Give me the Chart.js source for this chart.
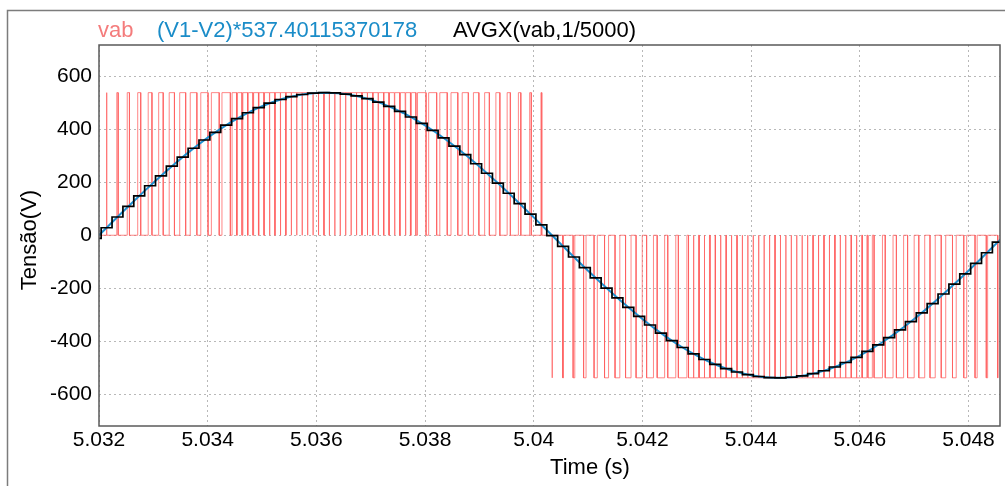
<!DOCTYPE html>
<html><head><meta charset="utf-8">
<script src="https://cdn.jsdelivr.net/npm/chart.js@4/dist/chart.umd.min.js"></script>
<style>html,body{margin:0;padding:0;background:#fff;overflow:hidden}</style>
</head><body>
<div style="width:1005px;height:486px;position:relative"><canvas id="c" width="1005" height="486"></canvas></div>
<script>
// ---- data ----
const seriesNames = ['vab', '(V1-V2)*537.40115370178', 'AVGX(vab,1/5000)'];
const xTicks = [5.032, 5.034, 5.036, 5.038, 5.040, 5.042, 5.044, 5.046, 5.048];
const xTickLabels = ['5.032', '5.034', '5.036', '5.038', '5.04', '5.042', '5.044', '5.046', '5.048'];
const yTicks = [-600, -400, -200, 0, 200, 400, 600];
const yTickLabels = ['-600', '-400', '-200', '0', '200', '400', '600'];
const xTitle = 'Time (s)';
const yTitle = 'Tensão(V)';

// (V1-V2)*537.4 sampled every 0.2 ms from 5.032 s
const sineStart = 5.032;
const sineStep = 0.0002;
const sineValues = [
  0, 40.5, 80.7, 120.5, 159.6, 197.8, 234.9, 270.6, 304.8, 337.3,
  367.9, 396.3, 422.6, 446.4, 467.6, 486.3, 502.1, 515.1, 525.2, 532.3,
  536.3, 537.4, 535.3, 530.2, 522.2, 511.1, 497.1, 480.3, 460.8, 438.7,
  414.1, 387.1, 357.9, 326.8, 293.7, 258.9, 222.6, 185.2, 146.7, 107.3,
  67.4, 27.0, -13.5, -53.9, -94.1, -133.6, -172.5, -210.3, -247.0, -282.2,
  -315.9, -347.7, -377.6, -405.3, -430.7, -453.7, -474.2, -491.9, -506.8, -518.8,
  -527.9, -534.0, -537.0, -537.0, -534.0, -527.9, -518.8, -506.8, -491.9, -474.2,
  -453.7, -430.7, -405.3, -377.6, -347.7, -315.9, -282.2, -247.0, -210.3, -172.5,
  -133.6, -94.1, -53.9, -13.5
];

// AVGX(vab,1/5000): one level per 0.2 ms window, first window starts at 5.03184 s
const avgStart = 5.03184;
const avgStep = 0.0002;
const avgValues = [
  -12.2, 28.3, 68.7, 108.6, 148.0, 186.5, 223.9, 260.1, 294.7, 327.8,
  358.9, 388.0, 414.9, 439.5, 461.6, 481.0, 497.6, 511.5, 522.5, 530.5,
  535.4, 537.4, 536.3, 532.1, 524.9, 514.7, 501.6, 485.7, 466.9, 445.6,
  421.7, 395.4, 366.8, 336.2, 303.7, 269.5, 233.7, 196.6, 158.3, 119.2,
  79.4, 39.1, -1.3, -41.8, -82.1, -121.8, -160.9, -199.1, -236.1, -271.8,
  -306.0, -338.3, -368.8, -397.1, -423.1, -447.1, -468.3, -486.8, -502.6, -515.5,
  -525.5, -532.5, -536.4, -537.3, -535.2, -530.0, -521.8, -510.7, -496.6, -479.7,
  -460.1, -438.0, -413.3, -386.2, -357.0, -325.7, -292.5, -257.7, -221.5, -184.0,
  -145.4, -106.0, -66.0, -25.6
];
// vab switches between 0 and the DC level
const vabLevel = 537.4;

// ---- build library tables ----
const sinePts = sineValues.map((v, i) => ({x: sineStart + i * sineStep, y: v}));
const avgPts = avgValues.map((v, i) => ({x: avgStart + i * avgStep, y: v}));
avgPts.push({x: avgStart + avgValues.length * avgStep, y: avgValues[avgValues.length - 1]});

// PWM: pulses inside each 0.2 ms window whose mean equals that window's AVGX level.
// Low duty: one pulse centred in the window; high duty: two pulses (two notches per window).
const vabPts = [];
avgValues.forEach((v, k) => {
  const T = avgStep, b = avgStart + k * T;
  const d = Math.min(Math.abs(v) / vabLevel, 0.985);
  const lvl = v >= 0 ? vabLevel : -vabLevel;
  const centres = d > 0.8 ? [b + T / 4, b + 3 * T / 4] : [b + T / 2];
  const w = d * T / centres.length;
  centres.forEach(c => {
    vabPts.push({x: c - w / 2, y: 0}, {x: c - w / 2, y: lvl}, {x: c + w / 2, y: lvl}, {x: c + w / 2, y: 0});
  });
});

const FONT = 'Liberation Sans, Arial, sans-serif';

const deco = {
  id: 'deco',
  beforeDraw(chart) {
    const ctx = chart.ctx;
    ctx.save();
    ctx.fillStyle = '#fff';
    ctx.fillRect(0, 0, chart.width, chart.height);
    ctx.strokeStyle = '#7c7c7c';
    ctx.lineWidth = 1.5;
    ctx.beginPath();
    ctx.moveTo(7.5, 486); ctx.lineTo(7.5, 10.5); ctx.lineTo(1005, 10.5);
    ctx.stroke();
    ctx.restore();
  },
  afterDraw(chart) {
    const ctx = chart.ctx, a = chart.chartArea;
    ctx.save();
    ctx.strokeStyle = '#5a5a5a';
    ctx.lineWidth = 1.5;
    ctx.strokeRect(a.left, a.top, a.right - a.left, a.bottom - a.top);
    ctx.font = '22px ' + FONT;
    ctx.textBaseline = 'middle';
    ctx.textAlign = 'left';
    const cols = ['#f47c7c', '#1a8cc8', '#000000'];
    const xs = [98, 157, 453];
    seriesNames.forEach((n, i) => { ctx.fillStyle = cols[i]; ctx.fillText(n, xs[i], 31); });
    ctx.fillStyle = '#000';
    ctx.textAlign = 'center';
    ctx.fillText(xTitle, 590, 468);
    ctx.translate(30, 240);
    ctx.rotate(-Math.PI / 2);
    ctx.fillText(yTitle, 0, 0);
    ctx.restore();
  }
};

new Chart(document.getElementById('c'), {
  type: 'line',
  data: {
    datasets: [
      {label: seriesNames[2], data: avgPts, borderColor: '#000', borderWidth: 1.7, pointRadius: 0, stepped: 'before', order: 1},
      {label: seriesNames[1], data: sinePts, borderColor: '#1f8fd0', borderWidth: 2, pointRadius: 0, tension: 0, order: 2},
      {label: seriesNames[0], data: vabPts, borderColor: 'rgba(255,95,95,0.75)', borderWidth: 1, pointRadius: 0, tension: 0, order: 3}
    ]
  },
  options: {
    responsive: false,
    animation: false,
    devicePixelRatio: 1,
    parsing: false,
    normalized: true,
    layout: {padding: {top: 45, right: 5, left: 0, bottom: 0}},
    plugins: {legend: {display: false}, tooltip: {enabled: false}},
    scales: {
      x: {
        type: 'linear', min: 5.032, max: 5.04858,
        afterBuildTicks: s => { s.ticks = xTicks.map(v => ({value: v})); },
        afterFit: s => { s.height = 60; },
        ticks: {callback: (v, i) => xTickLabels[i], autoSkip: false, maxRotation: 0, padding: 2,
                font: {family: FONT, size: 21}, color: '#000'},
        grid: {color: '#b8b8b8', lineWidth: 1, drawTicks: false},
        border: {display: false, dash: [2, 3]}
      },
      y: {
        type: 'linear', min: -719, max: 717,
        afterBuildTicks: s => { s.ticks = yTicks.map(v => ({value: v})); },
        afterFit: s => { s.width = 99; },
        ticks: {callback: (v, i) => yTickLabels[i], autoSkip: false, padding: 7,
                font: {family: FONT, size: 21}, color: '#000'},
        grid: {color: '#b8b8b8', lineWidth: 1, drawTicks: false},
        border: {display: false, dash: [2, 3]}
      }
    }
  },
  plugins: [deco]
});
</script>
</body></html>
